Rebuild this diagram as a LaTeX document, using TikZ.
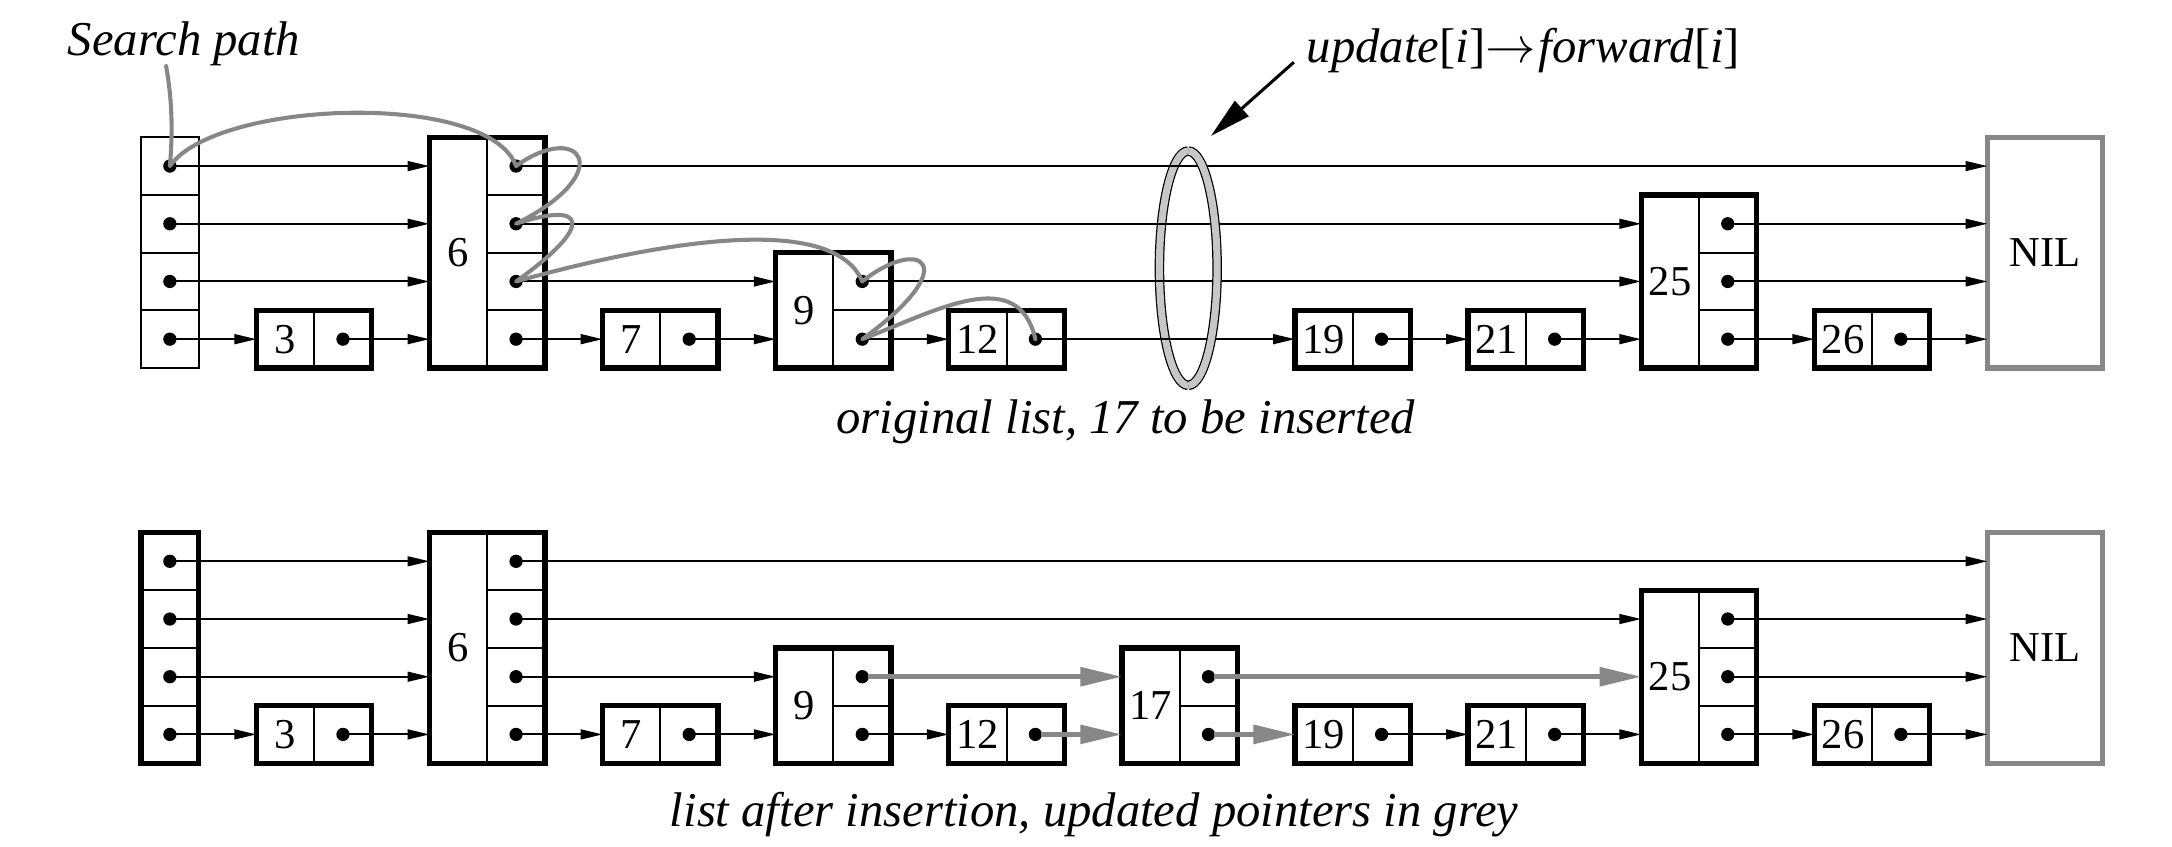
\documentclass[tikz,border=0pt]{standalone}
\usepackage{fontspec}
\setmainfont{Liberation Serif}
\usetikzlibrary{arrows.meta}
\definecolor{trailgrey}{gray}{0.53}
\definecolor{ringgrey}{gray}{0.78}
\tikzset{
  keycell/.style={draw, line width=1pt, minimum width=1cm, minimum height=#1, inner sep=0pt, outer sep=0pt, anchor=south west, font=\fontsize{21}{25}\selectfont},
  keycell/.default=1cm,
  ptrcell/.style={draw, line width=1pt, minimum width=1cm, minimum height=1cm, inner sep=0pt, outer sep=0pt, anchor=south west,
    path picture={\fill (path picture bounding box.center) circle (0.115cm);}},
  boxframe/.style={draw, line width=2.6pt},
  nilbox/.style={draw=trailgrey, line width=2.6pt, minimum width=2cm, minimum height=4cm, inner sep=0pt, outer sep=0pt, anchor=south west, font=\fontsize{21}{25}\selectfont},
  ptr/.style={line width=1pt, -{Triangle[length=0.38cm, width=0.17cm]}},
  newptr/.style={line width=2.2pt, draw=trailgrey, -{Triangle[length=0.72cm, width=0.32cm]}},
  trail/.style={line width=2pt, draw=trailgrey, line cap=round, line join=round},
  ring/.style={draw=black, line width=0.6pt, double=ringgrey, double distance=3.5pt},
  caption/.style={font=\fontsize{24}{29}\selectfont\itshape, inner sep=0pt},
  pointer/.style={line width=1.5pt, -{Triangle[length=0.72cm, width=0.35cm]}},
}

\begin{document}
\begin{tikzpicture}
\useasboundingbox (-2.444,-8.284) rectangle (35.199,6.378);
% original list
\node[ptrcell] (ahp1) at (0,0) {};
\node[ptrcell] (ahp2) at (0,1) {};
\node[ptrcell] (ahp3) at (0,2) {};
\node[ptrcell] (ahp4) at (0,3) {};
\node[keycell] (a3) at (2,0) {3};
\node[ptrcell] (a3p1) at (3,0) {};
\draw[boxframe] (a3.south west) rectangle (a3p1.north east);
\node[keycell=4cm] (a6) at (5,0) {6};
\node[ptrcell] (a6p1) at (6,0) {};
\node[ptrcell] (a6p2) at (6,1) {};
\node[ptrcell] (a6p3) at (6,2) {};
\node[ptrcell] (a6p4) at (6,3) {};
\draw[boxframe] (a6.south west) rectangle (a6p4.north east);
\node[keycell] (a7) at (8,0) {7};
\node[ptrcell] (a7p1) at (9,0) {};
\draw[boxframe] (a7.south west) rectangle (a7p1.north east);
\node[keycell=2cm] (a9) at (11,0) {9};
\node[ptrcell] (a9p1) at (12,0) {};
\node[ptrcell] (a9p2) at (12,1) {};
\draw[boxframe] (a9.south west) rectangle (a9p2.north east);
\node[keycell] (a12) at (14,0) {12};
\node[ptrcell] (a12p1) at (15,0) {};
\draw[boxframe] (a12.south west) rectangle (a12p1.north east);
\node[keycell] (a19) at (20,0) {19};
\node[ptrcell] (a19p1) at (21,0) {};
\draw[boxframe] (a19.south west) rectangle (a19p1.north east);
\node[keycell] (a21) at (23,0) {21};
\node[ptrcell] (a21p1) at (24,0) {};
\draw[boxframe] (a21.south west) rectangle (a21p1.north east);
\node[keycell=3cm] (a25) at (26,0) {25};
\node[ptrcell] (a25p1) at (27,0) {};
\node[ptrcell] (a25p2) at (27,1) {};
\node[ptrcell] (a25p3) at (27,2) {};
\draw[boxframe] (a25.south west) rectangle (a25p3.north east);
\node[keycell] (a26) at (29,0) {26};
\node[ptrcell] (a26p1) at (30,0) {};
\draw[boxframe] (a26.south west) rectangle (a26p1.north east);
\node[nilbox] (anil) at (32,0) {NIL};
% ring, back half
\draw[ring] (18.15,3.76) arc[start angle=90, end angle=270, x radius=0.5cm, y radius=2.03cm];
\draw[ptr] (ahp1.center) -- (ahp1.center -| a3.west);
\draw[ptr] (a3p1.center) -- (a3p1.center -| a6.west);
\draw[ptr] (a6p1.center) -- (a6p1.center -| a7.west);
\draw[ptr] (a7p1.center) -- (a7p1.center -| a9.west);
\draw[ptr] (a9p1.center) -- (a9p1.center -| a12.west);
\draw[ptr] (a12p1.center) -- (a12p1.center -| a19.west);
\draw[ptr] (a19p1.center) -- (a19p1.center -| a21.west);
\draw[ptr] (a21p1.center) -- (a21p1.center -| a25.west);
\draw[ptr] (a25p1.center) -- (a25p1.center -| a26.west);
\draw[ptr] (a26p1.center) -- (a26p1.center -| anil.west);
\draw[ptr] (ahp2.center) -- (ahp2.center -| a6.west);
\draw[ptr] (a6p2.center) -- (a6p2.center -| a9.west);
\draw[ptr] (a9p2.center) -- (a9p2.center -| a25.west);
\draw[ptr] (a25p2.center) -- (a25p2.center -| anil.west);
\draw[ptr] (ahp3.center) -- (ahp3.center -| a6.west);
\draw[ptr] (a6p3.center) -- (a6p3.center -| a25.west);
\draw[ptr] (a25p3.center) -- (a25p3.center -| anil.west);
\draw[ptr] (ahp4.center) -- (ahp4.center -| a6.west);
\draw[ptr] (a6p4.center) -- (a6p4.center -| anil.west);
% ring, front half
\draw[ring] (18.15,-0.30) arc[start angle=-90, end angle=90, x radius=0.5cm, y radius=2.03cm];
\node[caption, anchor=base] (searchlbl) at (0.745,5.42) {Search path};
\draw[trail] ([xshift=-0.31cm]searchlbl.south) .. controls +(-80:0.6) and +(85:0.6) .. (ahp4.center)
  .. controls +(55:1.4) and +(110:1.4) .. (a6p4.center)
  .. controls +(1.1,0.8) and +(1.8,0.9) .. (a6p3.center)
  .. controls +(1.2,0.4) and +(1.4,1.0) .. (a6p2.center)
  .. controls +(2.5,0.7) and +(-0.5,1.2) .. (a9p2.center)
  .. controls +(1.0,0.8) and +(1.8,1.3) .. (a9p1.center)
  .. controls +(1.3,0.5) and +(-0.3,1.3) .. (a12p1.center);
\node[caption, anchor=base west] (updlbl) at (20.2,5.30) {update\textup{[}i\textup{]}$\rightarrow$\kern1.5pt forward\textup{[}i\textup{]}};
\coordinate (ringmark) at (18.54,4.02);
\draw[pointer] ([xshift=-0.22cm]updlbl.base west) -- (ringmark);
\node[caption, anchor=base] (topcap) at (17.07,-1.13) {original list, 17 to be inserted};
% list after insertion
\begin{scope}[yshift=-6.85cm]
\node[ptrcell] (bhp1) at (0,0) {};
\node[ptrcell] (bhp2) at (0,1) {};
\node[ptrcell] (bhp3) at (0,2) {};
\node[ptrcell] (bhp4) at (0,3) {};
\draw[boxframe] (bhp1.south west) rectangle (bhp4.north east);
\node[keycell] (b3) at (2,0) {3};
\node[ptrcell] (b3p1) at (3,0) {};
\draw[boxframe] (b3.south west) rectangle (b3p1.north east);
\node[keycell=4cm] (b6) at (5,0) {6};
\node[ptrcell] (b6p1) at (6,0) {};
\node[ptrcell] (b6p2) at (6,1) {};
\node[ptrcell] (b6p3) at (6,2) {};
\node[ptrcell] (b6p4) at (6,3) {};
\draw[boxframe] (b6.south west) rectangle (b6p4.north east);
\node[keycell] (b7) at (8,0) {7};
\node[ptrcell] (b7p1) at (9,0) {};
\draw[boxframe] (b7.south west) rectangle (b7p1.north east);
\node[keycell=2cm] (b9) at (11,0) {9};
\node[ptrcell] (b9p1) at (12,0) {};
\node[ptrcell] (b9p2) at (12,1) {};
\draw[boxframe] (b9.south west) rectangle (b9p2.north east);
\node[keycell] (b12) at (14,0) {12};
\node[ptrcell] (b12p1) at (15,0) {};
\draw[boxframe] (b12.south west) rectangle (b12p1.north east);
\node[keycell=2cm] (b17) at (17,0) {17};
\node[ptrcell] (b17p1) at (18,0) {};
\node[ptrcell] (b17p2) at (18,1) {};
\draw[boxframe] (b17.south west) rectangle (b17p2.north east);
\node[keycell] (b19) at (20,0) {19};
\node[ptrcell] (b19p1) at (21,0) {};
\draw[boxframe] (b19.south west) rectangle (b19p1.north east);
\node[keycell] (b21) at (23,0) {21};
\node[ptrcell] (b21p1) at (24,0) {};
\draw[boxframe] (b21.south west) rectangle (b21p1.north east);
\node[keycell=3cm] (b25) at (26,0) {25};
\node[ptrcell] (b25p1) at (27,0) {};
\node[ptrcell] (b25p2) at (27,1) {};
\node[ptrcell] (b25p3) at (27,2) {};
\draw[boxframe] (b25.south west) rectangle (b25p3.north east);
\node[keycell] (b26) at (29,0) {26};
\node[ptrcell] (b26p1) at (30,0) {};
\draw[boxframe] (b26.south west) rectangle (b26p1.north east);
\node[nilbox] (bnil) at (32,0) {NIL};
\draw[ptr] (bhp1.center) -- (bhp1.center -| b3.west);
\draw[ptr] (b3p1.center) -- (b3p1.center -| b6.west);
\draw[ptr] (b6p1.center) -- (b6p1.center -| b7.west);
\draw[ptr] (b7p1.center) -- (b7p1.center -| b9.west);
\draw[ptr] (b9p1.center) -- (b9p1.center -| b12.west);
\draw[newptr] ([xshift=1mm]b12p1.center) -- (b12p1.center -| b17.west);
\draw[newptr] ([xshift=1mm]b17p1.center) -- (b17p1.center -| b19.west);
\draw[ptr] (b19p1.center) -- (b19p1.center -| b21.west);
\draw[ptr] (b21p1.center) -- (b21p1.center -| b25.west);
\draw[ptr] (b25p1.center) -- (b25p1.center -| b26.west);
\draw[ptr] (b26p1.center) -- (b26p1.center -| bnil.west);
\draw[ptr] (bhp2.center) -- (bhp2.center -| b6.west);
\draw[ptr] (b6p2.center) -- (b6p2.center -| b9.west);
\draw[newptr] ([xshift=1mm]b9p2.center) -- (b9p2.center -| b17.west);
\draw[newptr] ([xshift=1mm]b17p2.center) -- (b17p2.center -| b25.west);
\draw[ptr] (b25p2.center) -- (b25p2.center -| bnil.west);
\draw[ptr] (bhp3.center) -- (bhp3.center -| b6.west);
\draw[ptr] (b6p3.center) -- (b6p3.center -| b25.west);
\draw[ptr] (b25p3.center) -- (b25p3.center -| bnil.west);
\draw[ptr] (bhp4.center) -- (bhp4.center -| b6.west);
\draw[ptr] (b6p4.center) -- (b6p4.center -| bnil.west);
\end{scope}
\node[caption, anchor=base] (botcap) at (16.52,-7.95) {list after insertion, updated pointers in grey};
\end{tikzpicture}
\end{document}
